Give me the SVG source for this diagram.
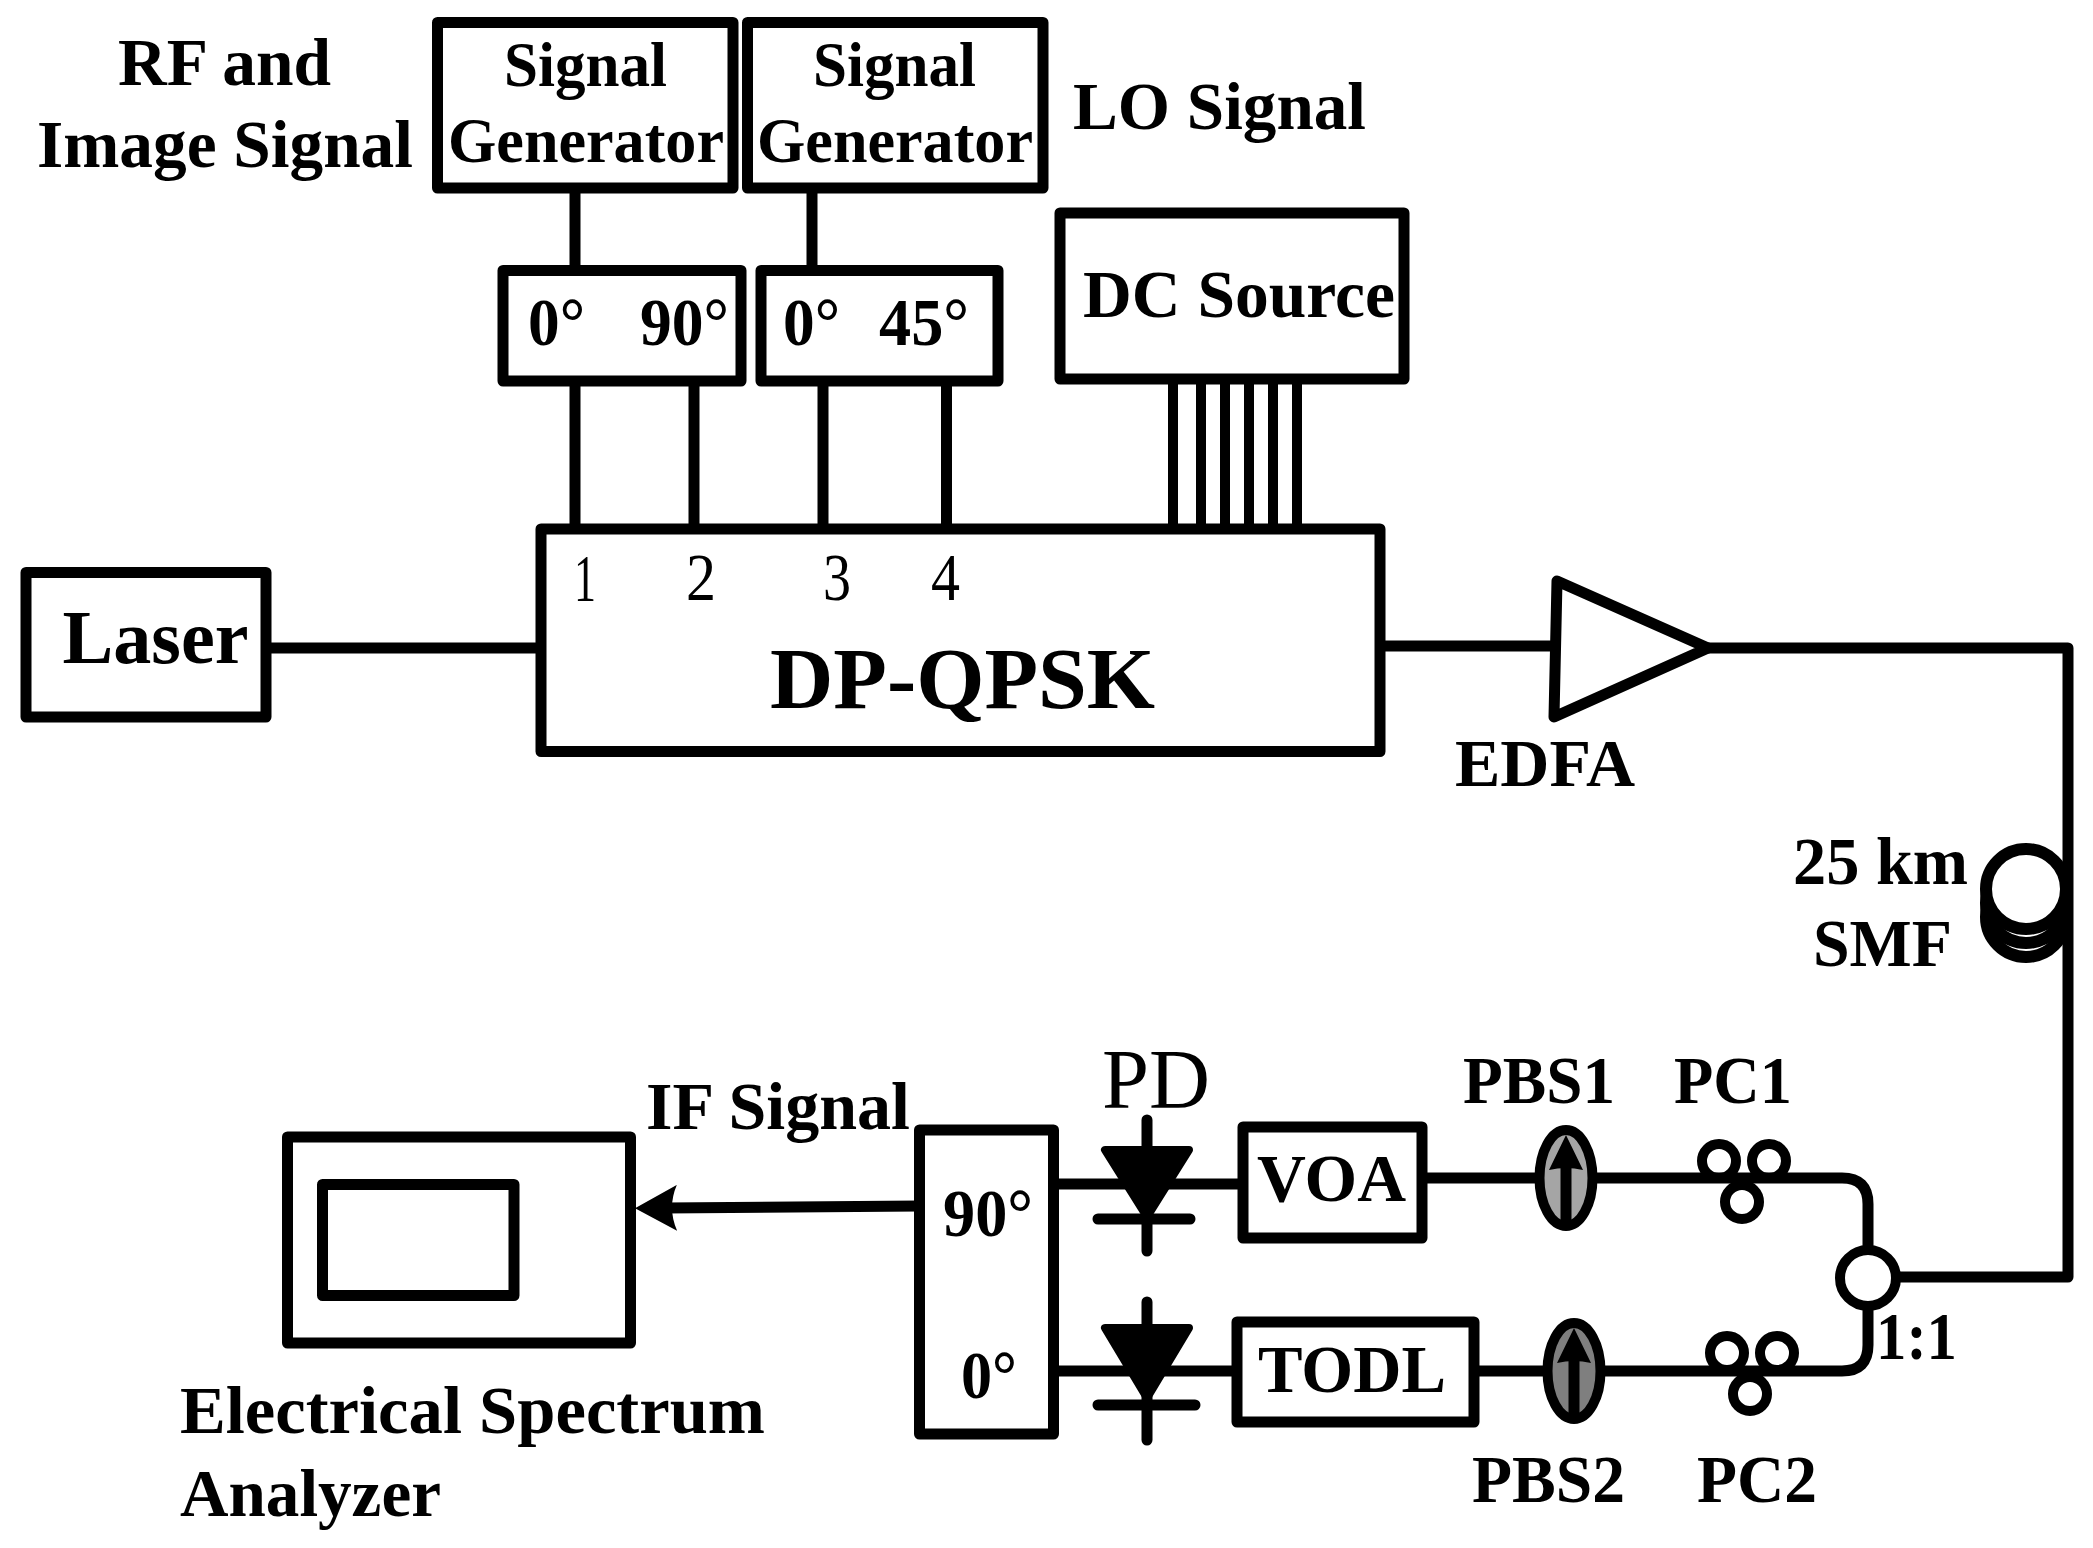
<svg xmlns="http://www.w3.org/2000/svg" width="2093" height="1548" viewBox="0 0 2093 1548">
<style>
text{font-family:"Liberation Serif","Times New Roman",serif;font-weight:700;fill:#000;font-size:68px}
.reg{font-weight:400}
.box{fill:#fff;stroke:#000;stroke-width:11;stroke-linejoin:round}
.w{fill:none;stroke:#000;stroke-width:11;stroke-linejoin:round}
.dc{fill:none;stroke:#000;stroke-width:10}
.coil{fill:#fff;stroke:#000;stroke-width:12}
.loop{fill:none;stroke:#000;stroke-width:10}
.rd{stroke-linecap:round}
</style>
<defs>
<g id="pbsArrow"><path d="M0-43 L17-8 Q0-12 -17-8Z" fill="#000"/><path d="M0-20V44" stroke="#000" stroke-width="11" fill="none"/></g>
<g id="pc"><circle cx="0" cy="0" r="17" class="loop"/><circle cx="50" cy="0" r="17" class="loop"/><circle cx="23" cy="41" r="17" class="loop"/></g>
<marker id="ah" markerUnits="userSpaceOnUse" markerWidth="44" markerHeight="46" refX="12" refY="23" orient="auto"><path d="M0 0L42 23L0 46Q10 23 0 0Z" fill="#000"/></marker>
</defs>
<rect width="2093" height="1548" fill="#fff"/>
<g id="connectors">
<path class="w" d="M575 188V270M812 188V270M575 381V529M694 381V529M823 381V529M946.5 381V529"/>
<path class="dc" d="M1173 384V529M1201 384V529M1225 384V529M1249 384V529M1273 384V529M1297 384V529"/>
<path class="w" d="M266 648H541M1380 646H1554"/>
<path class="w" d="M1704 648H2068V1277H1896"/>
<path class="w" d="M1427 1178H1842Q1868 1178 1868 1204V1252"/>
<path class="w" d="M1868 1304V1345Q1868 1371 1842 1371H1479"/>
<path class="w" d="M1053 1184H1243M1053 1371H1237"/>
<path class="w" d="M920 1206L665 1208" marker-end="url(#ah)"/>
</g>
<g id="rf-label"><text x="118" y="85" textLength="213" lengthAdjust="spacingAndGlyphs">RF and</text><text x="37" y="167" textLength="376" lengthAdjust="spacingAndGlyphs">Image Signal</text></g>
<g id="sg1"><rect class="box" x="437.5" y="22.5" width="295.5" height="165.5"/><text x="504" y="86" textLength="163" lengthAdjust="spacingAndGlyphs" style="font-size:64px">Signal</text><text x="448" y="162" textLength="276" lengthAdjust="spacingAndGlyphs" style="font-size:64px">Generator</text></g>
<g id="sg2"><rect class="box" x="747.5" y="22.5" width="295.5" height="165.5"/><text x="813" y="86" textLength="163" lengthAdjust="spacingAndGlyphs" style="font-size:64px">Signal</text><text x="757" y="162" textLength="276" lengthAdjust="spacingAndGlyphs" style="font-size:64px">Generator</text></g>
<g id="lo-label"><text x="1073" y="129" textLength="293" lengthAdjust="spacingAndGlyphs">LO Signal</text></g>
<g id="hyb1"><rect class="box" x="503" y="270.5" width="238" height="110.5"/><text x="528" y="345" textLength="57" lengthAdjust="spacingAndGlyphs">0°</text><text x="640" y="345" textLength="89" lengthAdjust="spacingAndGlyphs">90°</text></g>
<g id="hyb2"><rect class="box" x="761" y="270.5" width="237" height="110.5"/><text x="783" y="345" textLength="57" lengthAdjust="spacingAndGlyphs">0°</text><text x="879" y="345" textLength="90" lengthAdjust="spacingAndGlyphs">45°</text></g>
<g id="dc"><rect class="box" x="1060" y="213" width="344" height="166"/><text x="1083" y="317" textLength="312" lengthAdjust="spacingAndGlyphs">DC Source</text></g>
<g id="laser"><rect class="box" x="26" y="572.5" width="240" height="144.5"/><text x="62.5" y="663" textLength="186" lengthAdjust="spacingAndGlyphs" style="font-size:77px">Laser</text></g>
<g id="mod"><rect class="box" x="541" y="529" width="839" height="222.5"/><text class="reg" x="574" y="601" textLength="22" lengthAdjust="spacingAndGlyphs">1</text><text class="reg" x="686" y="600" textLength="30" lengthAdjust="spacingAndGlyphs">2</text><text class="reg" x="823" y="600" textLength="28" lengthAdjust="spacingAndGlyphs">3</text><text class="reg" x="931" y="600" textLength="29" lengthAdjust="spacingAndGlyphs">4</text><text x="770" y="708" textLength="385" lengthAdjust="spacingAndGlyphs" style="font-size:86px">DP-QPSK</text></g>
<g id="edfa"><path class="box" d="M1557 581L1554 717L1708 648Z"/><text x="1455" y="786" textLength="180" lengthAdjust="spacingAndGlyphs">EDFA</text></g>
<g id="fiber"><circle class="coil" cx="2026" cy="917" r="40"/><circle class="coil" cx="2026" cy="903" r="40"/><circle class="coil" cx="2026" cy="889" r="40"/><text x="1793" y="884" textLength="175" lengthAdjust="spacingAndGlyphs">25 km</text><text x="1813" y="966" textLength="139" lengthAdjust="spacingAndGlyphs">SMF</text></g>
<g id="coupler"><circle cx="1868" cy="1278" r="28" fill="#fff" stroke="#000" stroke-width="10"/><text x="1876" y="1359" textLength="81" lengthAdjust="spacingAndGlyphs">1:1</text></g>
<g id="pc1"><use href="#pc" x="1719" y="1161"/><text x="1674" y="1103" textLength="118" lengthAdjust="spacingAndGlyphs">PC1</text></g>
<g id="pc2"><use href="#pc" x="1727" y="1353"/><text x="1697" y="1502" textLength="120" lengthAdjust="spacingAndGlyphs">PC2</text></g>
<g id="pbs1"><ellipse cx="1566" cy="1178" rx="26.5" ry="48" fill="#a5a5a5" stroke="#000" stroke-width="10"/><use href="#pbsArrow" x="1566" y="1178"/><text x="1463" y="1103" textLength="152" lengthAdjust="spacingAndGlyphs">PBS1</text></g>
<g id="pbs2"><ellipse cx="1574" cy="1371" rx="26.5" ry="48" fill="#7f7f7f" stroke="#000" stroke-width="10"/><use href="#pbsArrow" x="1574" y="1371"/><text x="1472" y="1502" textLength="153" lengthAdjust="spacingAndGlyphs">PBS2</text></g>
<g id="voa"><rect class="box" x="1243" y="1127" width="179" height="111"/><text x="1257" y="1201" textLength="149" lengthAdjust="spacingAndGlyphs">VOA</text></g>
<g id="todl"><rect class="box" x="1237" y="1322" width="237" height="100"/><text x="1258" y="1392" textLength="188" lengthAdjust="spacingAndGlyphs">TODL</text></g>
<g id="pd1"><path d="M1147 1120V1251M1098 1219H1190" class="w rd"/><path d="M1105 1150H1189L1147 1217Z" fill="#000" stroke="#000" stroke-width="8" stroke-linejoin="round"/><text x="1102" y="1108" textLength="108" lengthAdjust="spacingAndGlyphs" class="reg" style="font-size:84px">PD</text></g>
<g id="pd2"><path d="M1147 1302V1440M1098 1405H1195" class="w rd"/><path d="M1105 1328H1189L1147 1398Z" fill="#000" stroke="#000" stroke-width="8" stroke-linejoin="round"/></g>
<g id="hyb3"><rect class="box" x="919.5" y="1130" width="134" height="304"/><text x="943" y="1236" textLength="90" lengthAdjust="spacingAndGlyphs">90°</text><text x="961" y="1398" textLength="56" lengthAdjust="spacingAndGlyphs">0°</text></g>
<g id="esa"><rect class="box" x="287.5" y="1137" width="343" height="206"/><rect class="box" x="322.5" y="1184.5" width="191.5" height="111"/><text x="180" y="1433" textLength="585" lengthAdjust="spacingAndGlyphs">Electrical Spectrum</text><text x="180" y="1516" textLength="261" lengthAdjust="spacingAndGlyphs">Analyzer</text></g>
<g id="if-label"><text x="646" y="1129" textLength="264" lengthAdjust="spacingAndGlyphs">IF Signal</text></g>
</svg>
